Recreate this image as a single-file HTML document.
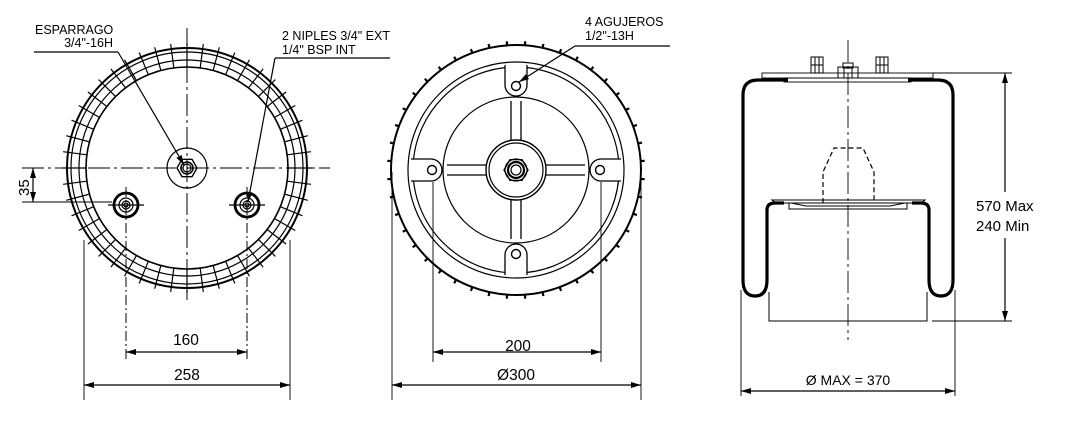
<!DOCTYPE html>
<html><head><meta charset="utf-8"><style>
html,body{margin:0;padding:0;background:#fff;width:1078px;height:437px;overflow:hidden}
svg{display:block}
text{font-family:"Liberation Sans",Arial,sans-serif;fill:#000}
</style></head><body>
<svg id="s" width="1078" height="437" viewBox="0 0 1078 437" xmlns="http://www.w3.org/2000/svg" fill="none" stroke="#000" stroke-width="1.2">
<defs>
<marker id="a" viewBox="0 0 10 6" refX="10" refY="3" markerWidth="10" markerHeight="6" orient="auto-start-reverse" markerUnits="userSpaceOnUse"><path d="M0,0 L10,3 L0,6z" fill="#000" stroke="none"/></marker>
</defs>
<g id="left">
<circle cx="187" cy="168" r="120" stroke-width="2"/>
<circle cx="187" cy="168" r="116"/>
<circle cx="187" cy="168" r="108"/>
<circle cx="187" cy="168" r="101" stroke-width="1.6"/>
<line x1="187" y1="28" x2="187" y2="300" stroke-dasharray="22,4,3,4" stroke-width="1"/>
<line x1="22" y1="168" x2="330" y2="168" stroke-dasharray="22,4,3,4" stroke-width="1"/>
<circle cx="187" cy="168" r="20"/>
<polygon points="197,168 192,176.7 182,176.7 177,168 182,159.3 192,159.3" stroke-width="1.4"/>
<circle cx="187" cy="168" r="6" stroke-width="1.5"/>
<circle cx="187" cy="168" r="4"/>
<circle cx="126" cy="205" r="12" stroke-width="2.8"/>
<circle cx="126" cy="205" r="7" stroke-width="1.2"/>
<circle cx="126" cy="205" r="4"/>
<circle cx="126" cy="205" r="2"/>
<line x1="108" y1="205" x2="144" y2="205"/>
<line x1="126" y1="187" x2="126" y2="362" stroke-dasharray="10,3,2,3" stroke-width="1"/>
<circle cx="247" cy="205" r="12" stroke-width="2.8"/>
<circle cx="247" cy="205" r="7" stroke-width="1.2"/>
<circle cx="247" cy="205" r="4"/>
<circle cx="247" cy="205" r="2"/>
<line x1="229" y1="205" x2="265" y2="205"/>
<line x1="247" y1="187" x2="247" y2="362" stroke-dasharray="10,3,2,3" stroke-width="1"/>
<line x1="22" y1="202" x2="112" y2="202" stroke-width="0.9"/>
<line x1="33" y1="168" x2="33" y2="202" marker-start="url(#a)" marker-end="url(#a)"/>
<text x="0" y="0" font-size="15" stroke="none" transform="translate(29,196) rotate(-90)">35</text>
<line x1="126" y1="352" x2="247" y2="352" marker-start="url(#a)" marker-end="url(#a)"/>
<text x="186" y="345" font-size="15.5" stroke="none" text-anchor="middle">160</text>
<line x1="84" y1="240" x2="84" y2="400" stroke-width="0.9"/>
<line x1="290" y1="240" x2="290" y2="400" stroke-width="0.9"/>
<line x1="84" y1="385" x2="290" y2="385" marker-start="url(#a)" marker-end="url(#a)"/>
<text x="187" y="380" font-size="15.5" stroke="none" text-anchor="middle">258</text>
<text x="35" y="34" font-size="12.5" stroke="none">ESPARRAGO</text>
<text x="113" y="47" font-size="12.5" stroke="none" text-anchor="end">3/4"-16H</text>
<line x1="34" y1="52" x2="118" y2="52" stroke-width="1.3"/>
<line x1="118" y1="52" x2="184" y2="165" marker-end="url(#a)"/>
<text x="282" y="40" font-size="12.5" stroke="none">2 NIPLES 3/4" EXT</text>
<text x="282" y="54" font-size="12.5" stroke="none">1/4" BSP INT</text>
<line x1="275" y1="58" x2="390" y2="58" stroke-width="1.3"/>
<line x1="275" y1="58" x2="248" y2="202" marker-end="url(#a)"/>
</g>
<g>
<circle cx="516" cy="170" r="125" stroke-width="2"/>
<circle cx="516" cy="170" r="108"/>
<circle cx="516" cy="170" r="103"/>
<circle cx="516" cy="170" r="73"/>
<circle cx="516" cy="170" r="30" stroke-width="1.4"/>
<circle cx="516" cy="170" r="27"/>
<polygon points="528,170 522,180.4 510,180.4 504,170 510,159.6 522,159.6" stroke-width="1.3"/>
<circle cx="516" cy="170" r="11" stroke-width="1.2"/>
<circle cx="516" cy="170" r="8" stroke-width="2.2"/>
<circle cx="516" cy="170" r="5"/>
<g fill="#fff" stroke-width="1.3">
<path d="M511,140 V101 M521,140 V101"/>
<path d="M511,200 V239 M521,200 V239"/>
<path d="M486,165 H447 M486,175 H447"/>
<path d="M546,165 H585 M546,175 H585"/>
<path d="M505,65 V85 A11,11 0 0 0 527,85 V65"/>
<path d="M505,275 V255 A11,11 0 0 1 527,255 V275"/>
<path d="M411,159 H431 A11,11 0 0 1 431,181 H411"/>
<path d="M621,159 H601 A11,11 0 0 0 601,181 H621"/>
</g>
<circle cx="516" cy="86" r="4.5" stroke-width="1.4"/>
<circle cx="516" cy="254" r="4.5" stroke-width="1.4"/>
<circle cx="432" cy="170" r="4.5" stroke-width="1.4"/>
<circle cx="600" cy="170" r="4.5" stroke-width="1.4"/>
<line x1="433" y1="182" x2="433" y2="362" stroke-width="0.9"/>
<line x1="601" y1="182" x2="601" y2="362" stroke-width="0.9"/>
<line x1="433" y1="352" x2="601" y2="352" marker-start="url(#a)" marker-end="url(#a)"/>
<text x="518" y="351" font-size="15.5" stroke="none" text-anchor="middle">200</text>
<line x1="392" y1="172" x2="392" y2="400" stroke-width="0.9"/>
<line x1="641" y1="172" x2="641" y2="400" stroke-width="0.9"/>
<line x1="392" y1="385" x2="641" y2="385" marker-start="url(#a)" marker-end="url(#a)"/>
<text x="516" y="380" font-size="15.5" stroke="none" text-anchor="middle">Ø300</text>
<text x="585" y="26" font-size="12.5" stroke="none">4 AGUJEROS</text>
<text x="585" y="40" font-size="12.5" stroke="none">1/2"-13H</text>
<line x1="575" y1="46" x2="670" y2="46" stroke-width="1.3"/>
<line x1="575" y1="46" x2="519" y2="82" marker-end="url(#a)"/>
</g>
<g id="ticks"></g>
<g>
<line x1="848" y1="40" x2="848" y2="340" stroke-dasharray="22,4,3,4" stroke-width="0.9"/>
<rect x="762" y="73" width="171" height="5" stroke-width="0.9"/>
<rect x="784" y="78" width="127" height="4" stroke-width="0.9"/>
<g stroke-width="1">
<rect x="811" y="57" width="12" height="16"/><line x1="811" y1="65" x2="823" y2="65"/><line x1="815" y1="57" x2="815" y2="73"/><line x1="819" y1="57" x2="819" y2="73"/>
<rect x="876" y="57" width="12" height="16"/><line x1="876" y1="65" x2="888" y2="65"/><line x1="880" y1="57" x2="880" y2="73"/><line x1="884" y1="57" x2="884" y2="73"/>
<rect x="838" y="67" width="20" height="11"/><rect x="843" y="63" width="10" height="5"/><line x1="844" y1="67" x2="844" y2="78"/><line x1="852" y1="67" x2="852" y2="78"/>
</g>
<path d="M788,80 H758 Q743,80 743,95 V280 Q743,296 755,296 Q767,296 767,280 V210 Q767,203 775,203 H784" stroke-width="3.2"/>
<path d="M908,80 H938 Q953,80 953,95 V280 Q953,296 941,296 Q929,296 929,280 V210 Q929,203 921,203 H912" stroke-width="3.2"/>
<path d="M769,292 V321 H927 V292" stroke-width="1"/>
<path d="M772,200 H925 L921,203 H905 L890,206 H806 L791,203 H776 Z" stroke-width="1"/>
<rect x="789" y="203" width="118" height="6" stroke-width="1"/>
<path d="M823,203 V172 L834,148 H863 L874,172 V203" stroke-dasharray="5,3"/>
<line x1="933" y1="73" x2="1012" y2="73" stroke-width="0.9"/>
<line x1="932" y1="321" x2="1012" y2="321" stroke-width="0.9"/>
<line x1="1005" y1="73" x2="1005" y2="192" marker-start="url(#a)"/>
<line x1="1005" y1="238" x2="1005" y2="321" marker-end="url(#a)"/>
<text x="976" y="211" font-size="15" stroke="none">570 Max</text>
<text x="976" y="231" font-size="15" stroke="none">240 Min</text>
<line x1="741" y1="290" x2="741" y2="396" stroke-width="0.9"/>
<line x1="955" y1="290" x2="955" y2="396" stroke-width="0.9"/>
<line x1="741" y1="391" x2="955" y2="391" marker-start="url(#a)" marker-end="url(#a)"/>
<text x="848" y="385" font-size="14" stroke="none" text-anchor="middle">Ø MAX = 370</text>
</g>
</svg>
<script>
var g=document.getElementById('ticks'),h='';
for(var i=0;i<48;i++){var t=i*Math.PI*2/48;var c=Math.cos(t),s=Math.sin(t);
h+='<line x1="'+(187+101*c)+'" y1="'+(168+101*s)+'" x2="'+(187+125*c)+'" y2="'+(168+125*s)+'" stroke-width="1.2"/>';}
for(var i=0;i<44;i++){var t=(i+0.5)*Math.PI*2/44;var c=Math.cos(t),s=Math.sin(t);
h+='<line x1="'+(516+125*c)+'" y1="'+(170+125*s)+'" x2="'+(516+129*c)+'" y2="'+(170+129*s)+'" stroke-width="2.2"/>';}
g.innerHTML=h;
</script>
</body></html>
